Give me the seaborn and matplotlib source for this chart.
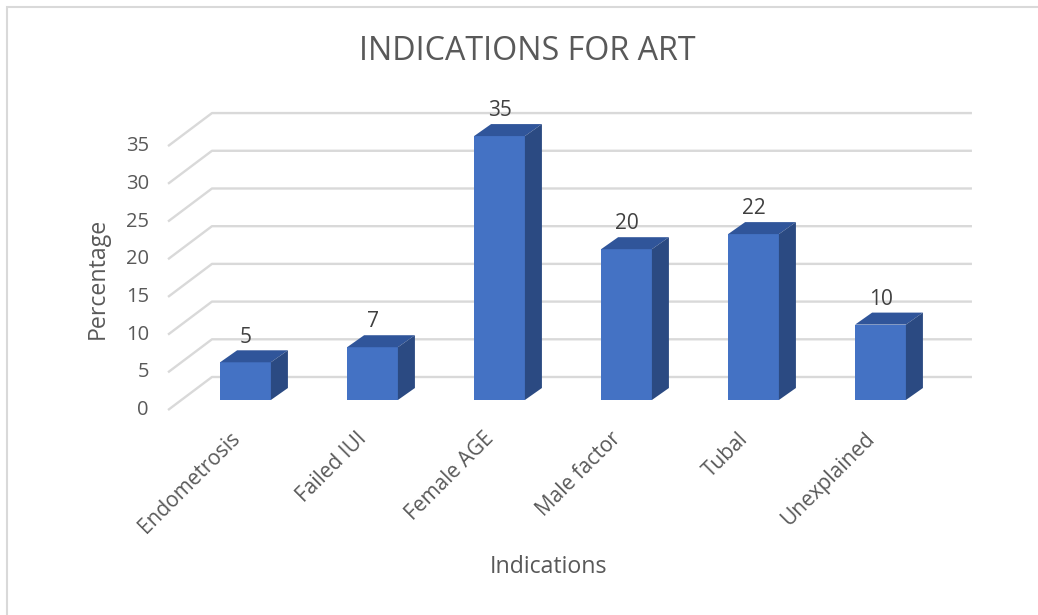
import matplotlib
matplotlib.use("Agg")
import matplotlib.pyplot as plt
import matplotlib.transforms as mtransforms
from matplotlib.patches import Polygon, Rectangle
import seaborn as sns
import pandas as pd

# ---- data ----
categories = ["Endometrosis", "Failed IUI", "Female AGE", "Male factor", "Tubal", "Unexplained"]
values = [5, 7, 35, 20, 22, 10]
y_ticks = [0, 5, 10, 15, 20, 25, 30, 35]
title = "INDICATIONS FOR ART"
x_label = "Indications"
y_label = "Percentage"

# ---- style ----
sns.set_theme(style="white")
plt.rcParams["font.family"] = ["Open Sans", "DejaVu Sans"]

FRONT = "#4472C4"
TOP = "#30559A"
SIDE = "#2B4A82"
GRID = "#D9D9D9"
TXT = "#595959"
LBL = "#404040"

# oblique projection offsets (data units)
BAR_W = 0.40
BAR_DX, BAR_DY = 0.134, 1.59          # bar depth
WALL_BACK_DY = 3.05                    # back wall relative to bar front plane
WALL_DX, WALL_DY = 0.346, 4.38         # floor depth (front edge -> back wall)
WALL_X0, WALL_X1 = -0.264, 5.72        # back wall horizontal extent

W, H = 1038, 615
fig = plt.figure(figsize=(W / 100, H / 100), dpi=100)
ax = fig.add_axes([140 / W, (H - 420) / H, 860 / W, 330 / H])

df = pd.DataFrame({"cat": categories, "val": values})
sns.barplot(data=df, x="cat", y="val", color=FRONT, width=BAR_W, saturation=1,
            ax=ax, zorder=3, linewidth=0)

ax.set_xlim(-0.8307, 5.9409)
ax.set_ylim(-2.653, 41.11)
for s in ax.spines.values():
    s.set_visible(False)
ax.set_yticks([])
ax.set_xlabel("")
ax.set_ylabel("")

# gridlines: back wall + diagonal floor-side segments
for v in y_ticks:
    yb = v + WALL_BACK_DY
    ax.plot([WALL_X0 - WALL_DX, WALL_X0, WALL_X1], [yb - WALL_DY, yb, yb],
            color=GRID, lw=1.7, zorder=1, solid_capstyle="butt")
    ax.text(WALL_X0 - WALL_DX - 0.15, yb - WALL_DY, str(v), ha="right", va="center",
            fontsize=14.5, color=TXT)

# 3D faces derived from the bars seaborn drew
for patch, v in zip(ax.patches, values):
    x0 = patch.get_x()
    w = patch.get_width()
    h = patch.get_height()
    x1 = x0 + w
    top = Polygon([(x0, h), (x1, h), (x1 + BAR_DX, h + BAR_DY), (x0 + BAR_DX, h + BAR_DY)],
                  closed=True, facecolor=TOP, edgecolor="none", zorder=3)
    side = Polygon([(x1, 0), (x1 + BAR_DX, BAR_DY), (x1 + BAR_DX, h + BAR_DY), (x1, h)],
                   closed=True, facecolor=SIDE, edgecolor="none", zorder=3)
    ax.add_patch(top)
    ax.add_patch(side)
    ax.annotate(str(v), (x0 + w / 2, h + BAR_DY), xytext=(0, 2), textcoords="offset points",
                ha="center", va="bottom", fontsize=15, color=LBL)

# category labels
ax.tick_params(axis="x", length=0, pad=6)
ax.set_xticks(range(len(categories)))
ax.set_xticklabels(categories, rotation=45, ha="right", va="top",
                   rotation_mode="anchor", fontsize=15, color=TXT)
offset = mtransforms.ScaledTranslation(-16 / 100, 0, fig.dpi_scale_trans)
for lab in ax.get_xticklabels():
    lab.set_transform(lab.get_transform() + offset)

# titles
fig.text(527 / W, 1 - 52 / H, title, ha="center", va="center", fontsize=23.2, color=TXT)
fig.text(549 / W, 1 - 567 / H, x_label, ha="center", va="center", fontsize=16.7, color=TXT)
fig.text(98 / W, 1 - 278 / H, y_label, ha="center", va="center", rotation=90,
         fontsize=16.7, color=TXT)

# chart frame (left and top edges visible)
fig.patches.append(Rectangle((7 / W, -0.1), 1.2, 1 - 7 / H + 0.1, transform=fig.transFigure,
                             fill=False, edgecolor=GRID, lw=1.5, zorder=0))

fig.savefig("out.png", dpi=100, facecolor="white")
